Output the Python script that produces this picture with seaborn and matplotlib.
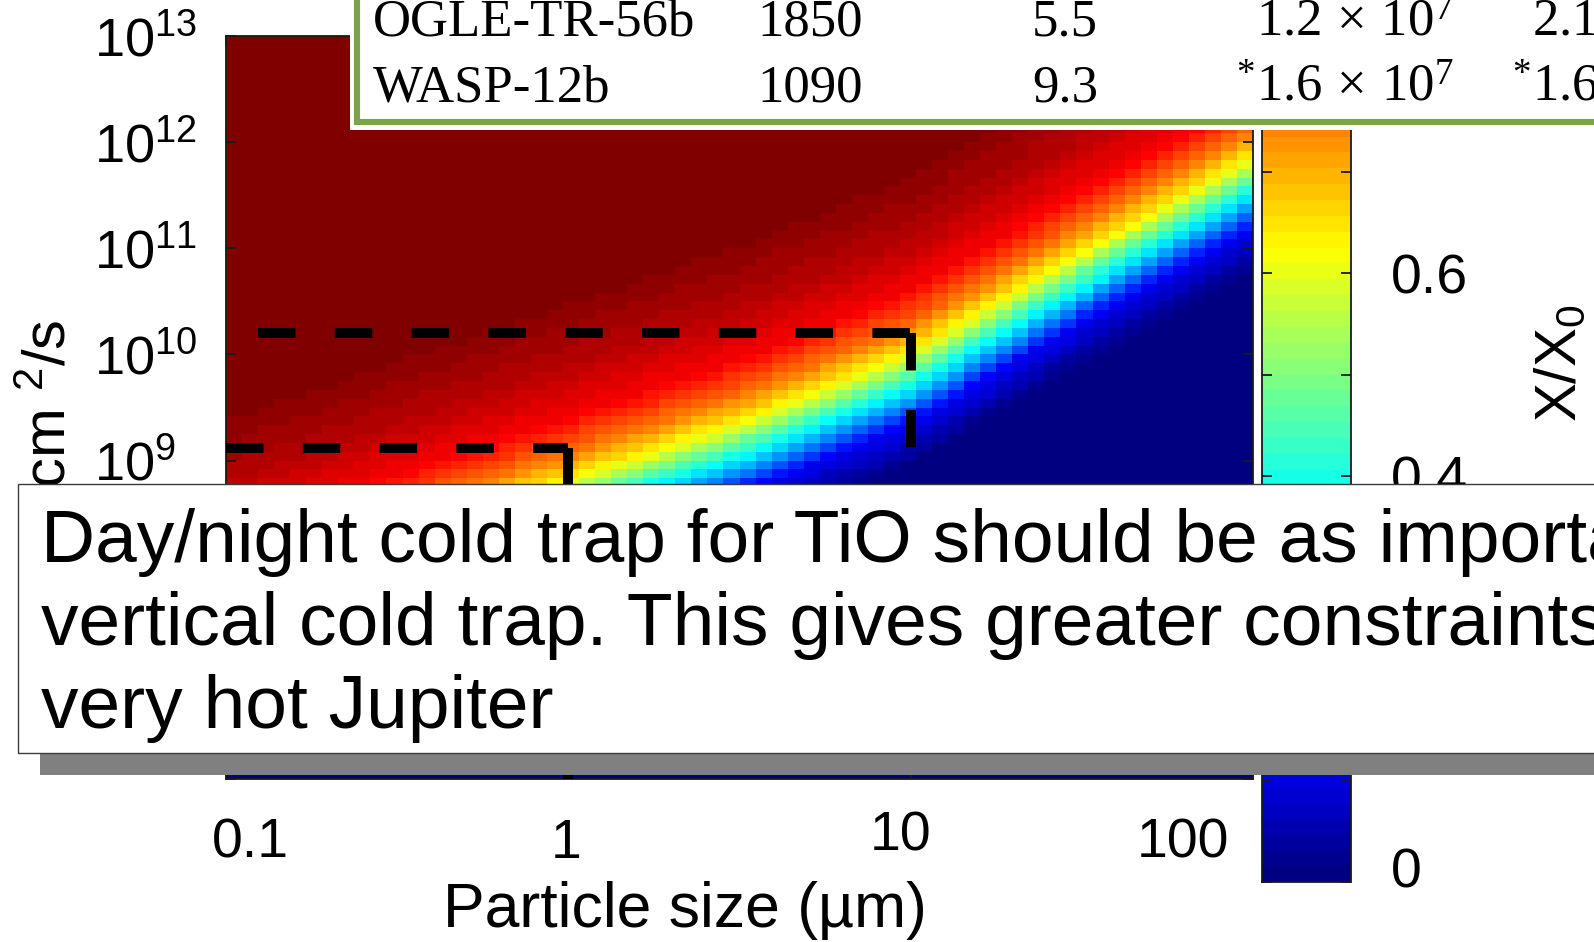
import numpy as np
import pandas as pd
import matplotlib
matplotlib.use("Agg")
import matplotlib.pyplot as plt
import matplotlib.transforms as mtransforms
from matplotlib.colors import LinearSegmentedColormap
from matplotlib.patches import Rectangle
import seaborn as sns

# ---------------- values ----------------
size_ticks = [0.1, 1, 10, 100]                      # particle size (µm)
size_tick_labels = ["0.1", "1", "10", "100"]
kzz_tick_exponents = [6, 7, 8, 9, 10, 11, 12, 13]   # Kzz decades (cm^2/s)
kzz_labelled_exponents = [7, 8, 9, 10, 11, 12, 13]
cbar_tick_values = [0.0, 0.1, 0.2, 0.3, 0.4, 0.5, 0.6, 0.7, 0.8, 0.9, 1.0]
cbar_tick_labels = ["0", "", "0.2", "", "0.4", "", "0.6", "", "0.8", "", "1"]

size_range_log = [-1.0, 2.0]      # 0.1 .. 100 µm
kzz_range_log = [6.0, 13.0]       # 1e6 .. 1e13 cm^2/s
n_size_cells = 64
n_kzz_cells = 84

# X/X0 = 0.5 contour (log10 size, log10 Kzz)
contour_log_size = [-1.0, -0.5, 0.0, 0.5, 1.0, 1.5, 2.0]
contour_log_kzz = [7.55, 8.12, 8.66, 9.20, 9.85, 10.80, 11.70]
# X/X0 read across the band, vs. decades of Kzz above that contour
profile_offset = [-4.0, -0.95, -0.85, -0.5, -0.17, 0.0, 0.16, 0.4, 0.75, 1.25, 2.0, 3.0, 8.0]
profile_value = [0.0, 0.0, 0.02, 0.125, 0.375, 0.5, 0.625, 0.75, 0.875, 0.94, 1.0, 0.985, 0.985]

# dashed guides (Kzz level, start size, end size)
guide_kzz = [1.6e10, 1.3e9]
guide_size_start = [0.124, 0.1]
guide_size_end = [10, 1]

table_planets = ["OGLE-TR-56b", "WASP-12b"]
table_col2 = ["1850", "1090"]
table_col3 = ["5.5", "9.3"]
table_col4 = [r"$\mathregular{1.2\ ×\ 10^{7}}$", r"$\mathregular{^{*}1.6\ ×\ 10^{7}}$"]
table_col5 = [r"$\mathregular{2.1\ ×\ 10^{7}}$", r"$\mathregular{^{*}1.6\ ×\ 10^{7}}$"]

textbox_lines = ["Day/night cold trap for TiO should be as important as the",
                 "vertical cold trap. This gives greater constraints on the",
                 "very hot Jupiter"]

# ---------------- build the map table ----------------
size_edges = np.linspace(size_range_log[0], size_range_log[1], n_size_cells + 1)
log_size_c = 0.5 * (size_edges[:-1] + size_edges[1:])
kzz_edges = np.linspace(kzz_range_log[1], kzz_range_log[0], n_kzz_cells + 1)
log_kzz_c = 0.5 * (kzz_edges[:-1] + kzz_edges[1:])
contour_at = np.interp(log_size_c, contour_log_size, contour_log_kzz)
offset = log_kzz_c[:, None] - contour_at[None, :]
field = np.interp(offset, profile_offset, profile_value)
df = pd.DataFrame(field,
                  index=[f"{k:.2f}" for k in log_kzz_c],
                  columns=[f"{10**s:.3g}" for s in log_size_c])


def size_to_col(s):
    return (np.log10(s) - size_range_log[0]) / (size_range_log[1] - size_range_log[0]) * n_size_cells


def kzz_to_row(k):
    return (kzz_range_log[1] - np.log10(k)) / (kzz_range_log[1] - kzz_range_log[0]) * n_kzz_cells


# ---------------- style ----------------
sns.set_style("white")
plt.rcParams["font.family"] = ["Liberation Sans", "DejaVu Sans"]
plt.rcParams["mathtext.fontset"] = "custom"
plt.rcParams["mathtext.rm"] = "Liberation Sans"
plt.rcParams["mathtext.it"] = "Liberation Sans:italic"
plt.rcParams["mathtext.bf"] = "Liberation Sans:bold"
plt.rcParams["axes.axisbelow"] = False
plt.rcParams["text.color"] = "black"
plt.rcParams["axes.labelcolor"] = "black"
plt.rcParams["xtick.color"] = "black"
plt.rcParams["ytick.color"] = "black"

jet64 = LinearSegmentedColormap.from_list(
    "jet64",
    [(0.0, (0, 0, 0.5)), (1 / 8, (0, 0, 1)), (3 / 8, (0, 1, 1)),
     (5 / 8, (1, 1, 0)), (7 / 8, (1, 0, 0)), (1.0, (0.5, 0, 0))], N=64)

FW, FH = 1594, 942
fig = plt.figure(figsize=(FW / 100, FH / 100), dpi=100)
fig.patch.set_facecolor("white")


def rect(left, top, right, bottom):
    return [left / FW, 1 - bottom / FH, (right - left) / FW, (bottom - top) / FH]


ax = fig.add_axes(rect(226, 36, 1253, 779))
cax = fig.add_axes(rect(1262, -133, 1351, 882))

sns.heatmap(df, ax=ax, cbar_ax=cax, cmap=jet64, vmin=0, vmax=1,
            xticklabels=False, yticklabels=False)
ax.set_axisbelow(False)
cax.set_axisbelow(False)

for sp in ax.spines.values():
    sp.set_visible(True)
    sp.set_color("0.1")
    sp.set_linewidth(1.3)

# guides
for k, s0, s1 in zip(guide_kzz, guide_size_start, guide_size_end):
    ax.plot([size_to_col(s0), size_to_col(s1)], [kzz_to_row(k), kzz_to_row(k)],
            color="black", lw=7.2, dashes=(3.75, 3.93), dash_capstyle="butt", clip_on=False, zorder=5)
    ax.plot([size_to_col(s1), size_to_col(s1)], [kzz_to_row(k), kzz_to_row(10 ** kzz_range_log[0])],
            color="black", lw=7.2, dashes=(3.75, 3.93), dash_capstyle="butt", clip_on=False, zorder=5)

# y ticks
ax.set_yticks([kzz_to_row(10.0 ** e) for e in kzz_tick_exponents])
ax.set_yticklabels([rf"$\mathregular{{10^{{{e}}}}}$" if e in kzz_labelled_exponents else ""
                    for e in kzz_tick_exponents])
ax.tick_params(axis="y", direction="in", length=7, width=1.3, color="0.1",
               left=True, right=True, labelsize=39, pad=95, labelcolor="black")
for lab in ax.get_yticklabels():
    lab.set_ha("left")
    lab.set_rotation(0)

# x ticks
ax.set_xticks([size_to_col(s) for s in size_ticks])
ax.set_xticklabels(size_tick_labels)
ax.tick_params(axis="x", direction="in", length=7, width=1.3, color="0.1",
               bottom=True, top=True, labelsize=40, pad=28, labelcolor="black")
x_label_shift = [(24, 0), (-2, 0), (-10, 7), (-70, 0)]
for lab, (dx, dy) in zip(ax.get_xticklabels(), x_label_shift):
    lab.set_rotation(0)
    lab.set_transform(lab.get_transform() + mtransforms.ScaledTranslation(dx / 100, dy / 100, fig.dpi_scale_trans))

ax.set_xlabel("Particle size (µm)", fontsize=45, color="black")
ax.xaxis.label.set_va("baseline")
ax.xaxis.set_label_coords((685 - 226) / 1027, (779 - 927) / 743)

ax.set_ylabel("K$_{zz}$ in cm $^{2}$/s", fontsize=43, color="black")
ax.yaxis.label.set_ha("right")
ax.yaxis.label.set_va("baseline")
ax.yaxis.set_label_coords((66 - 226) / 1027, (779 - 320) / 743)

# colorbar
cb = ax.collections[0].colorbar
cb.outline.set_linewidth(1.3)
cb.outline.set_edgecolor("0.1")
cb.set_ticks(cbar_tick_values, labels=cbar_tick_labels)
cb.ax.yaxis.set_ticks_position("both")
cb.ax.tick_params(axis="y", which="major", direction="in", length=7, width=1.3, color="0.1",
                  left=True, right=True, labelleft=False, labelright=True,
                  labelsize=40, pad=29, labelcolor="black")
cb.ax.yaxis.set_label_position("right")
lab0 = cb.ax.get_yticklabels()[0]
lab0.set_transform(lab0.get_transform() + mtransforms.ScaledTranslation(0, 14 / 100, fig.dpi_scale_trans))
cb.set_label("X/X$_0$", fontsize=42, rotation=90, color="black")
cb.ax.yaxis.label.set_va("baseline")
cb.ax.yaxis.set_label_coords((1576 - 1262) / 89, (882 - 363) / 1015)

# ---------------- slide overlays ----------------
ov = fig.add_axes([0, 0, 1, 1])
ov.set_xlim(0, FW)
ov.set_ylim(FH, 0)
ov.set_axis_off()
ov.set_zorder(10)

# table box
ov.add_patch(Rectangle((350, -60), 1400, 190, facecolor="white", edgecolor="none"))
ov.add_patch(Rectangle((357, -60), 1400, 182, facecolor="none", edgecolor="#79A548", lw=4.4))
row_base = [36, 101]
for i in range(len(table_planets)):
    kw = dict(fontsize=38, family=["Liberation Serif", "DejaVu Serif"], va="baseline", color="black")
    ov.text(373, row_base[i], table_planets[i], ha="left", **kw)
    ov.text(757, row_base[i], table_col2[i], ha="left", **kw)
    ov.text(1032, row_base[i], table_col3[i], ha="left", **kw)
    ov.text(1454, row_base[i], table_col4[i], ha="right", **kw)
    ov.text(1730, row_base[i], table_col5[i], ha="right", **kw)

# text box with shadow
ov.add_patch(Rectangle((40, 506), 1700, 269, facecolor="#808080", edgecolor="none"))
ov.add_patch(Rectangle((18, 484), 1700, 269, facecolor="white", edgecolor="#3a3a3a", lw=1.0))
for line, b in zip(textbox_lines, [562, 645, 728]):
    ov.text(41, b, line, fontsize=54, va="baseline", ha="left", color="black")

fig.savefig("out.png", dpi=100, facecolor="white")
